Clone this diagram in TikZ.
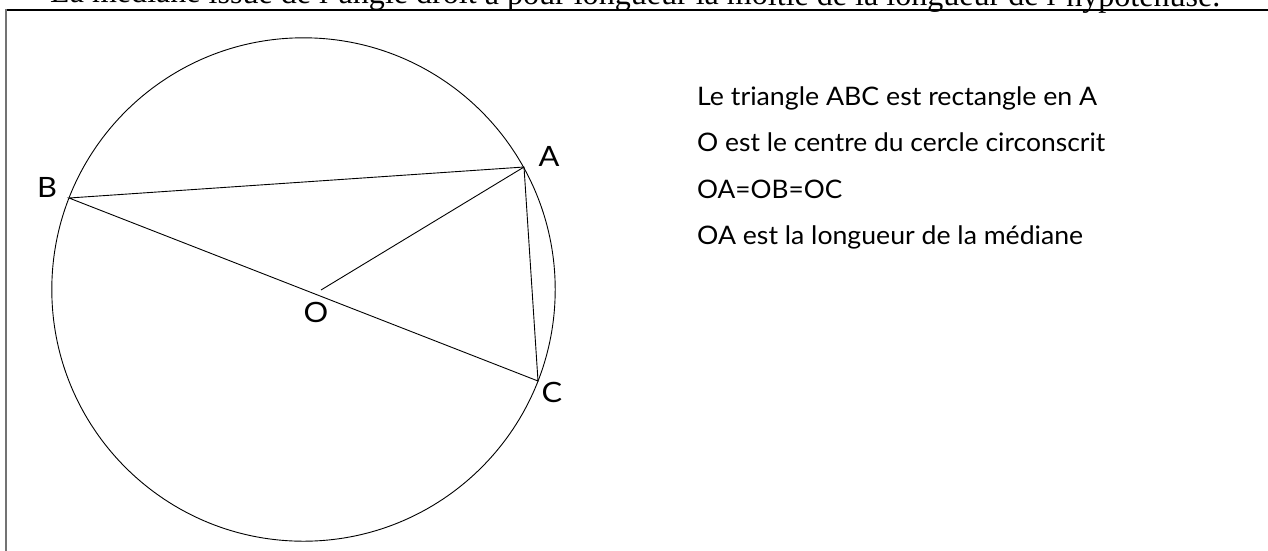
\documentclass[tikz,border=0pt]{standalone}
\usepackage{fontspec}
\setmainfont{Liberation Serif}
\newfontfamily\lblfont[FakeStretch=1.1]{Lato}
\newfontfamily\infofont{Lato}
\newcommand{\infoline}[2]{\resizebox{#1pt}{\height}{#2}}
\begin{document}
\begin{tikzpicture}[x=1pt,y=-1pt,
  geo/.style={line width=0.9pt,black},
  ptlabel/.style={font=\lblfont\fontsize{28}{32}\selectfont,inner sep=0pt},
  info/.style={font=\infofont\fontsize{25.5}{30}\selectfont,inner sep=0pt,anchor=base west},
  frameline/.style={line width=1.5pt}]
\useasboundingbox (0,0) rectangle (1268,550);
\clip (0,0) rectangle (1268,550);
% title (cut off at the top)
\node[anchor=base west,inner sep=0pt,rotate=-0.2] (title) at (50,2.5)
  {\resizebox{1170pt}{!}{La médiane issue de l'angle droit a pour longueur la moitié de la longueur de l'hypoténuse.}};
% frame
\draw[frameline,black] (6,10) -- (1270,10);
\draw[line width=2pt,black!55] (6,9.3) -- (6,552);
% geometry
\coordinate (O) at (303.5,289.5);
\coordinate (Bp) at (69,198);
\coordinate (Ap) at (524,167);
\coordinate (Cp) at (538,381);
\coordinate (Om) at (321,290);
\draw[geo] (O) circle (251.7);
\draw[geo] (Bp) -- (Ap) -- (Cp) -- cycle;
\draw[geo] (Om) -- (Ap);
\node[ptlabel] (lB) at (47,187) {B};
\node[ptlabel] (lA) at (549,156) {A};
\node[ptlabel] (lO) at (316,312) {O};
\node[ptlabel] (lC) at (552,392) {C};
% text
\node[info] (t1) at (697,105) {\infoline{400}{Le triangle ABC est rectangle en A}};
\node[info] (t2) at (697,151.5) {\infoline{408}{O est le centre du cercle circonscrit}};
\node[info] (t3) at (697,198) {\infoline{145}{OA=OB=OC}};
\node[info] (t4) at (697,244.5) {\infoline{386}{OA est la longueur de la médiane}};
\end{tikzpicture}
\end{document}
